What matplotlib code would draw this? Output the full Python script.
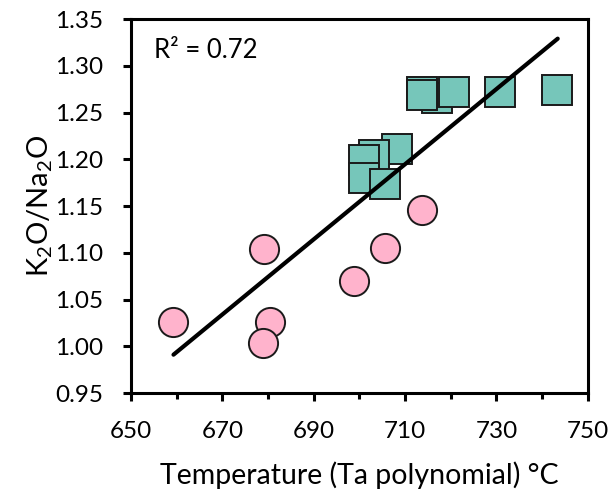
import numpy as np
import matplotlib
matplotlib.use("Agg")
import matplotlib.pyplot as plt
from matplotlib.ticker import FixedLocator, FormatStrFormatter

plt.rcParams['font.family'] = ['Lato', 'DejaVu Sans']

# pink circles
circ_t = [659.3, 679.2, 680.5, 679.0, 698.9, 705.7, 713.7]
circ_r = [1.026, 1.104, 1.026, 1.004, 1.070, 1.105, 1.146]

# teal squares
sq_t = [708.3, 703.1, 700.9, 700.9, 705.7, 717.0, 713.7, 713.7, 720.7, 730.7, 743.2]
sq_r = [1.211, 1.205, 1.199, 1.180, 1.174, 1.266, 1.272, 1.269, 1.272, 1.272, 1.274]

# trend line end points
fit_t = [659.3, 743.4]
fit_r = [0.991, 1.329]

x_major = [650, 670, 690, 710, 730, 750]
x_minor = [660, 680, 700, 720, 740]
y_ticks = [0.95, 1.00, 1.05, 1.10, 1.15, 1.20, 1.25, 1.30, 1.35]

fig = plt.figure(figsize=(6.13, 4.95), dpi=100)
ax = fig.add_axes([0.2137, 0.206, 0.959 - 0.2137, 0.9616 - 0.206])

ax.plot(circ_t, circ_r, 'o', ms=21, mfc='#FFB3CC', mec='#1a1a1a', mew=1.4, zorder=2)
ax.plot(sq_t, sq_r, 's', ms=21, mfc='#76C6BA', mec='#1a1a1a', mew=1.4, zorder=3)
ax.plot(fit_t, fit_r, '-', color='black', lw=3, solid_capstyle='round', zorder=4)

ax.set_xlim(650, 750)
ax.set_ylim(0.95, 1.35)
ax.xaxis.set_major_locator(FixedLocator(x_major))
ax.xaxis.set_minor_locator(FixedLocator(x_minor))
ax.yaxis.set_major_locator(FixedLocator(y_ticks))
ax.yaxis.set_major_formatter(FormatStrFormatter('%.2f'))

for s in ax.spines.values():
    s.set_linewidth(2.2)
ax.tick_params(axis='both', which='major', direction='out', length=6, width=2.2,
               labelsize=17.5, pad=14)
ax.tick_params(axis='x', which='minor', direction='out', length=4, width=2.2)

ax.set_xlabel('Temperature (Ta polynomial) °C', fontsize=20.5, labelpad=14)
ax.set_ylabel(r'K$_\mathregular{2}$O/Na$_\mathregular{2}$O', fontsize=21, labelpad=0)

ax.text(0.05, 0.915, 'R² = 0.72', transform=ax.transAxes, fontsize=18.5,
        va='center', ha='left')

fig.savefig('out.png', dpi=100)
